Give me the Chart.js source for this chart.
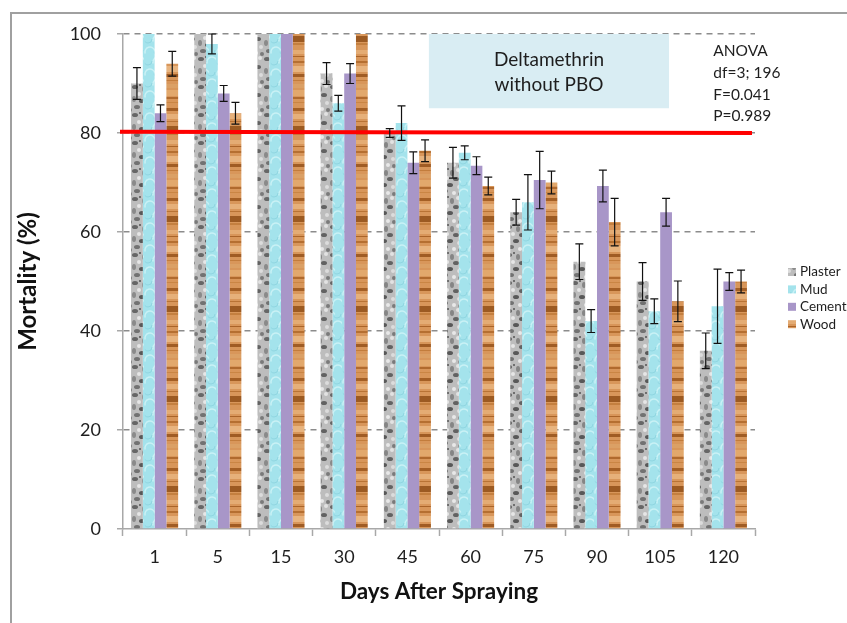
<!DOCTYPE html>
<html>
<head>
<meta charset="utf-8">
<script src="https://cdn.jsdelivr.net/npm/chart.js@4"></script>
<style>
  html, body { margin: 0; padding: 0; background: #fff; overflow: hidden; }
  #wrap { position: relative; width: 847px; height: 623px; }
  #frame { position: absolute; left: 10px; top: 12px; width: 860px; height: 640px;
           border-left: 2px solid #a0a0a0; border-top: 2px solid #a0a0a0; }
  #c { position: absolute; left: 0; top: 0; }
</style>
</head>
<body>
<div id="wrap"><div id="frame"></div><canvas id="c" width="847" height="623"></canvas></div>
<script>
"use strict";

/* ── data ── */
const days = ["1", "5", "15", "30", "45", "60", "75", "90", "105", "120"];
const plaster    = [90, 100, 100, 92, 80, 74, 64, 54, 50, 36];
const plasterErr = [3.2, 0, 0, 2.2, 0.9, 3.1, 2.6, 3.6, 3.8, 3.6];
const mud        = [100, 98, 100, 86, 82, 76, 66, 42, 44, 45];
const mudErr     = [0, 2, 0, 1.6, 3.5, 1.4, 5.6, 2.3, 2.5, 7.5];
const cement     = [84, 88, 100, 92, 74, 73.4, 70.5, 69.3, 64, 50];
const cementErr  = [1.7, 1.6, 0, 2, 2.2, 1.8, 5.8, 3.2, 2.8, 1.8];
const wood       = [94, 84, 100, 100, 76.4, 69.3, 70, 62, 46, 50];
const woodErr    = [2.5, 2.2, 0, 0, 2.2, 1.8, 2.3, 4.8, 4.1, 2.3];
const yTicks = [0, 20, 40, 60, 80, 100];
const threshold = [80.26, 80.0]; // red line, left end / right end
const boxLines = ["Deltamethrin", "without PBO"];
const anovaLines = ["ANOVA", "df=3; 196", "F=0.041", "P=0.989"];

Chart.defaults.font.family = "Lato";
Chart.defaults.color = "#1a1a1a";

/* ── bar textures ── */
function makePattern(w, h, draw) {
  const c = document.createElement("canvas");
  c.width = w; c.height = h;
  const g = c.getContext("2d");
  draw(g);
  return g.createPattern(c, "repeat");
}

const plasterFill = makePattern(22, 28, (g) => {
  g.fillStyle = "#bdbdbd"; g.fillRect(0, 0, 22, 28);
  const spots = [
    [3, 3, 3, 2, "#666"], [12, 5, 2, 3, "#858585"], [18, 2, 2, 2, "#e2e2e2"],
    [7, 10, 2, 2, "#e6e6e6"], [16, 11, 3, 2, "#626262"], [2, 15, 2, 3, "#8a8a8a"],
    [10, 17, 3, 2, "#585858"], [19, 19, 2, 2, "#dcdcdc"], [5, 23, 3, 2, "#727272"],
    [14, 25, 2, 2, "#e8e8e8"], [20, 26, 2, 2, "#7a7a7a"], [8, 1, 1, 1, "#555"],
  ];
  spots.forEach(([x, y, rx, ry, col]) => {
    g.fillStyle = col;
    g.beginPath(); g.ellipse(x, y, rx, ry, 0, 0, Math.PI * 2); g.fill();
  });
});

const mudFill = makePattern(18, 22, (g) => {
  g.fillStyle = "#a4e3ec"; g.fillRect(0, 0, 18, 22);
  g.strokeStyle = "#c9f1f5"; g.lineWidth = 1.5;
  g.beginPath(); g.arc(6, 8, 5, Math.PI * 0.9, Math.PI * 1.9); g.stroke();
  g.beginPath(); g.arc(14, 18, 5, Math.PI * 0.9, Math.PI * 1.9); g.stroke();
  g.strokeStyle = "#90d6e1"; g.lineWidth = 1;
  g.beginPath(); g.arc(13, 6, 4, 0, Math.PI * 0.8); g.stroke();
  g.beginPath(); g.arc(4, 17, 4, 0, Math.PI * 0.8); g.stroke();
});

const woodFill = makePattern(12, 90, (g) => {
  g.fillStyle = "#d8965a"; g.fillRect(0, 0, 12, 90);
  const stripes = [
    [0, 6, "#e2a86c"], [7, 2, "#b06a2e"], [12, 1, "#c98544"], [18, 3, "#a45f25"],
    [24, 5, "#e6b07a"], [31, 1, "#b87335"], [36, 6, "#9c5a22"], [43, 2, "#c47f3f"],
    [50, 4, "#e4ac74"], [56, 1, "#aa6429"], [61, 2, "#b56f31"], [66, 6, "#e8b47f"],
    [74, 3, "#a05c24"], [80, 1, "#c27c3c"], [84, 4, "#dba065"],
  ];
  stripes.forEach(([y, h, col]) => { g.fillStyle = col; g.fillRect(0, y, 12, h); });
});

const cementFill = "#a896c8";

/* ── plugins ── */
const errorBars = {
  id: "errorBars",
  afterDatasetsDraw(chart) {
    const { ctx, scales: { y } } = chart;
    ctx.save();
    ctx.strokeStyle = "#111";
    ctx.lineWidth = 1.2;
    chart.data.datasets.forEach((ds, di) => {
      chart.getDatasetMeta(di).data.forEach((bar, i) => {
        const e = ds.errors[i];
        if (!e) return;
        const top = y.getPixelForValue(ds.data[i] + e);
        const bot = y.getPixelForValue(ds.data[i] - e);
        ctx.beginPath();
        ctx.moveTo(bar.x, top); ctx.lineTo(bar.x, bot);
        ctx.moveTo(bar.x - 4, top); ctx.lineTo(bar.x + 4, top);
        ctx.moveTo(bar.x - 4, bot); ctx.lineTo(bar.x + 4, bot);
        ctx.stroke();
      });
    });
    ctx.restore();
  },
};

const annotations = {
  id: "annotations",
  beforeDatasetsDraw(chart) {
    const { ctx, chartArea: a, scales: { y } } = chart;
    const w = a.right - a.left;
    const x1 = a.left + w * 0.484, x2 = a.left + w * 0.864;
    const y1 = y.getPixelForValue(100), y2 = y.getPixelForValue(85);
    ctx.save();
    ctx.fillStyle = "#d9edf3";
    ctx.fillRect(x1, y1, x2 - x1, y2 - y1);
    ctx.fillStyle = "#1e1e1e";
    ctx.font = "19px Lato";
    ctx.textAlign = "center";
    ctx.textBaseline = "middle";
    boxLines.forEach((t, i) => ctx.fillText(t, (x1 + x2) / 2, y1 + 26 + i * 25));
    ctx.textAlign = "left";
    ctx.font = "15.5px Lato";
    anovaLines.forEach((t, i) => ctx.fillText(t, a.left + w * 0.934, y1 + 17 + i * 21.8));
    ctx.restore();
  },
  afterDatasetsDraw(chart) {
    const { ctx, chartArea: a, scales: { y } } = chart;
    ctx.save();
    ctx.strokeStyle = "#ff0000";
    ctx.lineWidth = 4;
    ctx.beginPath();
    ctx.moveTo(a.left - 3, y.getPixelForValue(threshold[0]));
    ctx.lineTo(a.right - 3, y.getPixelForValue(threshold[1]));
    ctx.stroke();
    ctx.restore();
  },
  afterDraw(chart) {
    // legend at the right of the plot
    const { ctx, chartArea: a } = chart;
    ctx.save();
    ctx.font = "13.5px Lato";
    ctx.textBaseline = "middle";
    ctx.textAlign = "left";
    chart.data.datasets.forEach((ds, i) => {
      const cy = 272 + i * 17.4;
      ctx.fillStyle = ds.backgroundColor;
      ctx.fillRect(a.right + 33, cy - 4, 8, 8);
      ctx.fillStyle = "#1e1e1e";
      ctx.fillText(ds.label, a.right + 45, cy);
    });
    ctx.restore();
  },
};

new Chart(document.getElementById("c"), {
  type: "bar",
  data: {
    labels: days,
    datasets: [
      { label: "Plaster", data: plaster, errors: plasterErr, backgroundColor: plasterFill },
      { label: "Mud", data: mud, errors: mudErr, backgroundColor: mudFill },
      { label: "Cement", data: cement, errors: cementErr, backgroundColor: cementFill },
      { label: "Wood", data: wood, errors: woodErr, backgroundColor: woodFill },
    ],
  },
  options: {
    responsive: false,
    animation: false,
    devicePixelRatio: 1,
    layout: { padding: { left: 0, top: 34, right: 92, bottom: 0 } },
    datasets: { bar: { categoryPercentage: 0.745, barPercentage: 1.0, borderWidth: 0 } },
    plugins: { legend: { display: false }, tooltip: { enabled: false } },
    scales: {
      x: {
        afterFit(s) { s.height = 94; },
        grid: { drawOnChartArea: false, drawTicks: true, tickLength: 7, tickColor: "#a8a8a8", tickWidth: 1.5, offset: true },
        border: { color: "#a8a8a8", width: 1.5 },
        ticks: { font: { size: 18 }, padding: 10, color: "#1e1e1e" },
        title: { display: true, text: "Days After Spraying", font: { size: 22.5, weight: "bold" }, padding: { top: 0, bottom: 18 }, color: "#111" },
      },
      y: {
        min: 0,
        max: 100,
        afterFit(s) { s.width = 123; },
        afterBuildTicks(s) { s.ticks = yTicks.map((v) => ({ value: v })); },
        grid: {
          color: (c) => (c.tick && c.tick.value === 0 ? "rgba(0,0,0,0)" : "#8c8c8c"),
          lineWidth: 1.5,
          tickLength: 6,
          tickColor: "#a8a8a8",
          tickWidth: 1.5,
          tickBorderDash: [],
        },
        border: { color: "#a8a8a8", width: 1.5, dash: [6, 5] },
        ticks: { font: { size: 18 }, padding: 16, color: "#1e1e1e" },
        title: { display: true, text: "Mortality (%)", font: { size: 24, weight: "bold" }, padding: { top: 14, bottom: 0 }, color: "#111" },
      },
    },
  },
  plugins: [annotations, errorBars],
});
</script>
</body>
</html>
